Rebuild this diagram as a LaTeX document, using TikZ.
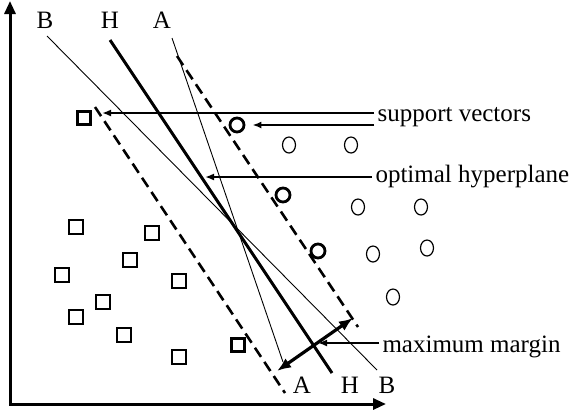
\documentclass[tikz,border=0pt]{standalone}
\usepackage{fontspec}
\setmainfont{Liberation Serif}
\usetikzlibrary{arrows.meta,calc}

\begin{document}
\begin{tikzpicture}[x=1pt,y=-1pt,
		every node/.style={font=\fontsize{25}{29}\selectfont},
		axis/.style={line width=3pt,{Triangle[length=13pt,width=11pt]}-{Triangle[length=13pt,width=11pt]}},
		thinline/.style={line width=0.9pt},
		hplane/.style={line width=3pt},
		marginline/.style={line width=2.6pt,dash pattern=on 11pt off 6pt},
		sample/.style={line width=1.2pt},
		svsq/.style={draw,line width=3pt,minimum size=13pt,inner sep=0pt},
		svci/.style={draw,circle,line width=2.8pt,minimum size=14pt,inner sep=0pt},
		pointer/.style={line width=2pt,-{Latex[length=9pt,width=7pt]}},
		gap/.style={line width=3.2pt,{Latex[length=14pt,width=11pt]}-{Latex[length=14pt,width=11pt]}}]
				\useasboundingbox (0,0) rectangle (572,413);
				
				\draw[axis] (10,1) -- (10,404) -- (386,404);
				
				% the three candidate lines
				\draw[thinline] (47,36) -- (377,370);
				\draw[hplane] (110,40) -- (332,373);
				\draw[thinline] (172,38) -- (283,362);
				\node at (45,20) {B};
				\node at (110,20) {H};
				\node at (162,20) {A};
				\node at (302,385) {A};
				\node at (350,385) {H};
				\node at (387,385) {B};
				
				% margin
				\draw[marginline] (95,107) -- (285,393);
				\draw[marginline] (177,56) -- (358,327);
				
				% class one
				\draw[sample] (69,220) rectangle ++(14,14);
				\draw[sample] (145,226) rectangle ++(14,14);
				\draw[sample] (123,253) rectangle ++(14,14);
				\draw[sample] (55,268) rectangle ++(14,14);
				\draw[sample] (172,274) rectangle ++(14,14);
				\draw[sample] (96,295) rectangle ++(14,14);
				\draw[sample] (69,310) rectangle ++(14,14);
				\draw[sample] (117,328) rectangle ++(14,14);
				\draw[sample] (172,350) rectangle ++(14,14);
				
				% class two
				\draw[sample] (289,145) ellipse (6.5 and 8);
				\draw[sample] (351,145) ellipse (6.5 and 8);
				\draw[sample] (358,207) ellipse (6.5 and 8);
				\draw[sample] (421,207) ellipse (6.5 and 8);
				\draw[sample] (373,254) ellipse (6.5 and 8);
				\draw[sample] (427,248) ellipse (6.5 and 8);
				\draw[sample] (393,297) ellipse (6.5 and 8);
				
				% support vectors
				\node[svsq] (sq1) at (84,118) {};
				\node[svsq] (sq2) at (238,345) {};
				\node[svci] (ci1) at (237,125) {};
				\node[svci] (ci2) at (283,195) {};
				\node[svci] (ci3) at (318,251) {};
				
				\coordinate (hp) at (205,177);
				\coordinate (ml) at (277,371);
				\coordinate (mr) at (353,318);
				\coordinate (mm0) at (318,343);
				
				\node[anchor=west] (sv) at (374,117) {support vectors};
				\node[anchor=west] (oh) at (372,177) {optimal hyperplane};
				\node[anchor=west] (mm) at (379,347) {maximum margin};
				
				\draw[pointer] ([yshift=4pt]sv.west) -- ([shift={(10pt,5pt)}]sq1.east);
				\draw[pointer] ([yshift=-8pt]sv.west) -- ([xshift=7pt]ci1.east);
				\draw[pointer] (oh.west) -- (hp);
				\draw[gap] (ml) -- (mr);
				\draw[pointer] ([yshift=4pt]mm.west) -- (mm0);
			\end{tikzpicture}
\end{document}
